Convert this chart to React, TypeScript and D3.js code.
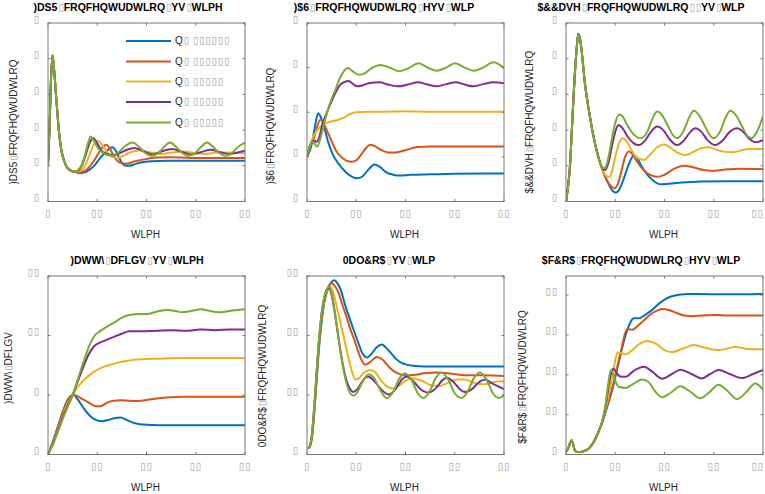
import React from 'react';
import * as d3 from 'd3';

type Pt = [number, number];

const COLORS = ['#0072BD', '#D95319', '#EDB120', '#7E2F8E', '#77AC30'];
const xTickValues = [0, 20, 40, 60, 80];
const xTickLabels = ['▯', '▯▯', '▯▯', '▯▯', '▯▯'];
const legendLabels = ['Q▯ ▯▯▯▯▯▯', 'Q▯ ▯▯▯▯▯▯', 'Q▯ ▯▯▯▯▯', 'Q▯ ▯▯▯▯▯', 'Q▯ ▯▯▯▯▯'];

const titles = [
  ')DS5▯FRQFHQWUDWLRQ▯YV▯WLPH',
  ')$6▯FRQFHQWUDWLRQ▯HYV▯WLP',
  '$&&DVH▯FRQFHQWUDWLRQ▯▯YV▯WLP',
  ')DWW\\▯DFLGV▯YV▯WLPH',
  '0DO&R$▯YV▯WLP',
  '$F&R$▯FRQFHQWUDWLRQ▯HYV▯WLP',
];
const yLabels = [
  ')DS5▯FRQFHQWUDWLRQ',
  ')$6▯FRQFHQWUDWLRQ',
  '$&&DVH▯FRQFHQWUDWLRQ',
  ')DWW\\▯DFLGV',
  '0DO&R$▯FRQFHQWUDWLRQ',
  '$F&R$▯FRQFHQWUDWLRQ',
];
const xLabel = 'WLPH';

const yTicks1 = [0, 1, 2, 3, 4, 5];
const yTickLabels1 = ['▯', '▯', '▯', '▯', '▯', '▯'];
const yTicks2 = [0, 1, 2, 3, 4];
const yTickLabels2 = ['▯', '▯', '▯', '▯', '▯'];
const yTicks3 = [0, 1, 2, 3, 4, 5];
const yTickLabels3 = ['▯', '▯', '▯', '▯', '▯', '▯'];
const yTicks4 = [0, 1, 2, 3];
const yTickLabels4 = ['▯', '▯', '▯▯', '▯▯'];
const yTicks5 = [0, 1, 2, 3];
const yTickLabels5 = ['▯', '▯▯', '▯▯', '▯▯'];
const yTicks6 = [0, 1, 2, 3, 4];
const yTickLabels6 = ['▯', '▯▯', '▯▯', '▯▯', '▯▯'];
const yMax = [5, 4, 5, 3, 3, 4.48];

// ---------- Panel 1 ----------
const p1Start: Pt[] = [[0, 1.03], [0.6, 2.0], [1.2, 3.4], [1.8, 4.1], [2.4, 3.75], [3.4, 2.85], [4.4, 2.0], [5.4, 1.45], [6.5, 1.15], [7.5, 0.98], [9, 0.88]];
const p1Blue: Pt[] = [...p1Start, [11, 0.83], [13, 0.8], [15, 0.82], [17, 0.9], [19, 1.02], [21, 1.2], [23, 1.36], [25, 1.48], [26.3, 1.52], [27.3, 1.45], [28.5, 1.28], [30, 1.08], [31.5, 1.0], [33, 1.0], [35, 1.04], [38, 1.1], [42, 1.13], [48, 1.14], [60, 1.14], [80, 1.14]];
const p1Orange: Pt[] = [...p1Start, [11, 0.83], [12.5, 0.81], [14.5, 0.84], [16.5, 0.95], [18.5, 1.12], [20.5, 1.35], [22.3, 1.53], [23.8, 1.59], [25, 1.5], [26.5, 1.3], [28, 1.15], [30, 1.07], [32, 1.06], [35, 1.12], [39, 1.18], [44, 1.23], [50, 1.24], [58, 1.22], [66, 1.22], [80, 1.22]];
const p1Yellow: Pt[] = [...p1Start, [11, 0.83], [13, 0.85], [15, 1.0], [16.8, 1.3], [18.5, 1.58], [20.4, 1.7], [22, 1.58], [24, 1.38], [26, 1.25], [28, 1.22], [30.5, 1.28], [33.5, 1.38], [37, 1.43], [41, 1.38], [46, 1.33], [51, 1.38], [55, 1.4], [60, 1.35], [64, 1.33], [69, 1.37], [73, 1.37], [80, 1.35]];
const p1Purple: Pt[] = [...p1Start, [10.8, 0.83], [12.5, 0.88], [14, 1.05], [15.5, 1.35], [17, 1.65], [18.4, 1.78], [19.8, 1.65], [21.5, 1.45], [23.5, 1.33], [26.5, 1.3], [29, 1.35], [32, 1.45], [35, 1.5], [38.5, 1.42], [42.5, 1.32], [46, 1.4], [50.5, 1.47], [54, 1.4], [58, 1.32], [62, 1.38], [66, 1.45], [70, 1.38], [73.5, 1.33], [77, 1.37], [80, 1.42]];
const p1Green: Pt[] = [...p1Start, [10.5, 0.83], [12, 0.87], [13.5, 1.0], [15, 1.3], [16.3, 1.65], [17.3, 1.82], [18.5, 1.72], [20, 1.52], [22, 1.38], [24, 1.3], [26.5, 1.28], [29, 1.4], [31.5, 1.56], [34.3, 1.65], [37, 1.53], [39.5, 1.36], [42, 1.28], [44.5, 1.34], [47, 1.52], [49.5, 1.65], [52, 1.53], [54.5, 1.36], [57, 1.28], [59.5, 1.34], [62, 1.52], [64.6, 1.65], [67, 1.53], [69.5, 1.36], [72, 1.28], [74.5, 1.34], [77, 1.52], [80, 1.65]];

// ---------- Panel 2 ----------
const p2Blue: Pt[] = [[0, 1.0], [0.7, 1.08], [2, 1.3], [3.3, 1.7], [4.5, 1.98], [5.5, 1.9], [6.8, 1.7], [8.5, 1.35], [10.5, 1.05], [12.8, 0.85], [15, 0.7], [17.5, 0.58], [20.3, 0.52], [22.5, 0.56], [25, 0.72], [27.4, 0.83], [29.5, 0.78], [32, 0.66], [35, 0.6], [37.5, 0.58], [42, 0.6], [50, 0.61], [60, 0.62], [80, 0.63]];
const p2Orange: Pt[] = [[0, 1.0], [1, 1.2], [2, 1.32], [3, 1.45], [4, 1.65], [5.4, 1.83], [6.5, 1.78], [8, 1.6], [10, 1.35], [12, 1.12], [14.5, 0.97], [16.5, 0.9], [18.2, 0.89], [20, 0.92], [22, 1.05], [24, 1.2], [25.7, 1.27], [27.5, 1.24], [30, 1.16], [33, 1.1], [36, 1.1], [40, 1.15], [45, 1.22], [50, 1.23], [60, 1.23], [80, 1.23]];
const p2Yellow: Pt[] = [[0, 1.0], [1, 1.2], [2, 1.38], [3, 1.5], [4.5, 1.62], [6.5, 1.72], [9, 1.78], [12, 1.82], [15, 1.88], [17.5, 1.96], [20, 2.0], [25, 2.01], [30, 2.01], [40, 2.02], [50, 2.01], [60, 2.01], [80, 2.01]];
const p2Purple: Pt[] = [[0, 1.0], [1, 1.22], [2, 1.34], [3, 1.36], [4, 1.34], [5, 1.45], [6, 1.68], [8.1, 2.0], [10, 2.25], [11.5, 2.43], [13, 2.58], [14.5, 2.66], [16.9, 2.7], [18.5, 2.64], [20.5, 2.58], [22.5, 2.6], [25, 2.65], [29.5, 2.67], [33, 2.62], [37, 2.58], [41, 2.62], [45, 2.67], [49, 2.62], [52.5, 2.58], [56.5, 2.63], [60.5, 2.67], [64, 2.62], [67.5, 2.58], [71.5, 2.63], [75.7, 2.67], [80, 2.65]];
const p2Green: Pt[] = [[0, 1.0], [1, 1.22], [2, 1.34], [3, 1.3], [4, 1.23], [5, 1.33], [6, 1.53], [8.1, 1.98], [10, 2.3], [11.5, 2.5], [13, 2.72], [14.5, 2.88], [16.6, 2.99], [18.5, 2.92], [20.9, 2.84], [23, 2.86], [26, 2.98], [29.7, 3.06], [33.5, 3.0], [37.4, 2.92], [41, 2.98], [45.3, 3.1], [49, 3.0], [52.7, 2.93], [56.5, 3.0], [60.1, 3.1], [64, 3.0], [67.6, 2.93], [71.5, 3.0], [75.7, 3.12], [80, 2.99]];

// ---------- Panel 3 ----------
const p3Start: Pt[] = [[0, 0], [0.8, 0.4], [1.6, 0.97], [2.3, 1.9], [3, 2.85], [3.7, 3.7], [4.3, 4.25], [5, 4.7], [5.7, 4.55], [6.3, 4.25], [7.7, 3.3], [9.7, 2.38], [12.4, 1.44], [14, 1.05]];
const p3Blue: Pt[] = [...p3Start, [15, 0.85], [16.5, 0.6], [18, 0.4], [19.2, 0.28], [20.2, 0.25], [21.5, 0.32], [23, 0.55], [25, 0.95], [26.5, 1.2], [27.6, 1.3], [29, 1.2], [31, 0.95], [33, 0.75], [35.5, 0.58], [38.4, 0.48], [42, 0.5], [47, 0.53], [55, 0.56], [65, 0.57], [80, 0.57]];
const p3Orange: Pt[] = [...p3Start, [15, 0.85], [16.5, 0.62], [18, 0.45], [19.5, 0.37], [21, 0.48], [22.5, 0.85], [24, 1.25], [25.6, 1.4], [27, 1.33], [29, 1.1], [31.5, 0.88], [34, 0.75], [37, 0.69], [40, 0.75], [44, 0.92], [47.8, 1.0], [52, 0.95], [56, 0.88], [59.3, 0.86], [64, 0.89], [70, 0.92], [80, 0.91]];
const p3Yellow: Pt[] = [...p3Start, [15, 0.85], [16.3, 0.72], [17.5, 0.69], [18.7, 0.85], [20, 1.25], [21.5, 1.62], [22.9, 1.77], [24.5, 1.7], [26.5, 1.45], [28.5, 1.25], [31.6, 1.16], [34, 1.3], [37, 1.52], [39.7, 1.6], [42.5, 1.5], [45.5, 1.36], [48.5, 1.3], [52, 1.4], [55, 1.5], [57.9, 1.52], [61, 1.45], [64.5, 1.39], [68, 1.38], [72, 1.45], [75, 1.48], [80, 1.47]];
const p3Purple: Pt[] = [...p3Start, [15.9, 0.88], [17.3, 1.1], [18.8, 1.6], [20, 1.95], [21.3, 2.14], [23, 2.05], [25, 1.82], [27.5, 1.63], [29.6, 1.58], [32, 1.7], [34.5, 1.95], [37, 2.1], [39.5, 2.0], [42, 1.75], [45.1, 1.58], [48, 1.72], [50.5, 1.95], [52.5, 2.05], [55, 1.95], [57.5, 1.72], [60.6, 1.58], [63.5, 1.7], [66.5, 1.95], [69.4, 2.05], [72, 1.95], [74.5, 1.75], [77, 1.66], [80, 1.72]];
const p3Green: Pt[] = [...p3Start, [15.5, 0.93], [16.8, 1.1], [18.2, 1.6], [19.8, 2.15], [21.5, 2.44], [23, 2.38], [25, 2.12], [27.5, 1.88], [30.3, 1.77], [33, 1.95], [35, 2.3], [37, 2.52], [39, 2.42], [41.5, 2.1], [43.5, 1.85], [45.1, 1.77], [47.5, 1.95], [50, 2.35], [51.9, 2.54], [54, 2.42], [56.5, 2.1], [58.5, 1.85], [59.9, 1.77], [62.5, 1.95], [64.8, 2.35], [66.7, 2.54], [69, 2.42], [71.5, 2.1], [73.5, 1.85], [75.4, 1.77], [77.5, 1.95], [80, 2.38]];

// ---------- Panel 4 ----------
const p4Blue: Pt[] = [[0, 0], [2, 0.22], [4, 0.47], [6, 0.72], [8, 0.92], [9.5, 0.99], [10.5, 1.0], [12, 0.93], [14.6, 0.77], [17, 0.65], [20, 0.57], [22, 0.56], [24.5, 0.58], [27, 0.61], [29.5, 0.62], [32, 0.58], [35, 0.53], [40, 0.5], [50, 0.49], [80, 0.49]];
const p4Orange: Pt[] = [[0, 0], [2, 0.2], [4, 0.45], [6, 0.7], [8, 0.9], [10, 1.0], [11.5, 0.99], [14, 0.93], [17, 0.86], [19.5, 0.81], [21.4, 0.81], [23.5, 0.86], [26, 0.9], [30, 0.91], [36, 0.9], [42, 0.93], [48, 0.96], [55, 0.97], [65, 0.97], [80, 0.97]];
const p4Yellow: Pt[] = [[0, 0], [2, 0.19], [4, 0.42], [6, 0.66], [8, 0.86], [10, 1.0], [12, 1.13], [15, 1.27], [18.7, 1.39], [23, 1.48], [28, 1.54], [33, 1.58], [38, 1.6], [45, 1.61], [55, 1.62], [80, 1.62]];
const p4Purple: Pt[] = [[0, 0], [2, 0.18], [4, 0.4], [6, 0.63], [8, 0.82], [10, 1.0], [12, 1.22], [14.6, 1.5], [16.5, 1.68], [18.7, 1.82], [21, 1.88], [24, 1.93], [27, 1.98], [30, 2.03], [33, 2.07], [38, 2.07], [44, 2.08], [50, 2.09], [56, 2.08], [62, 2.1], [68, 2.09], [74, 2.1], [80, 2.1]];
const p4Green: Pt[] = [[0, 0], [2, 0.17], [4, 0.38], [6, 0.6], [8, 0.8], [10, 1.0], [12, 1.25], [14.6, 1.58], [17, 1.85], [19, 2.0], [21, 2.07], [24, 2.15], [27, 2.22], [30, 2.3], [33.6, 2.35], [37, 2.36], [40.3, 2.36], [44, 2.4], [48.4, 2.43], [52, 2.41], [54.5, 2.39], [58, 2.41], [62, 2.44], [66, 2.41], [70.1, 2.39], [75, 2.42], [80, 2.44]];

// ---------- Panel 5 ----------
const p5Blue: Pt[] = [[0, 0.1], [1, 0.12], [2, 0.28], [3, 0.72], [4, 1.3], [5, 1.85], [6, 2.25], [7, 2.55], [8.5, 2.78], [10, 2.9], [11.2, 2.93], [12.3, 2.88], [13.5, 2.79], [15.5, 2.51], [18.2, 2.18], [20.9, 1.87], [22.5, 1.7], [24.3, 1.63], [26, 1.68], [28.2, 1.8], [30.4, 1.85], [32, 1.8], [33.8, 1.72], [35.8, 1.62], [38, 1.55], [40.5, 1.51], [43, 1.49], [48, 1.48], [60, 1.48], [80, 1.48]];
const p5Orange: Pt[] = [[0, 0.1], [1, 0.12], [2, 0.3], [3, 0.75], [4, 1.35], [5, 1.9], [6, 2.3], [7, 2.58], [8.5, 2.8], [10.1, 2.88], [11.5, 2.82], [12.8, 2.72], [14, 2.56], [15.5, 2.38], [17.5, 2.12], [19.6, 1.88], [21.5, 1.65], [23.6, 1.51], [25.5, 1.55], [28.4, 1.64], [30.5, 1.6], [33.8, 1.45], [36.5, 1.37], [39.9, 1.33], [44, 1.34], [48, 1.37], [53, 1.38], [58, 1.36], [65, 1.33], [72, 1.33], [80, 1.32]];
const p5Yellow: Pt[] = [[0, 0.1], [1, 0.12], [2, 0.32], [3, 0.8], [4, 1.4], [5, 1.95], [6, 2.35], [7, 2.6], [8.3, 2.77], [9.5, 2.82], [10.7, 2.72], [12.2, 2.46], [13.5, 2.22], [14.9, 1.98], [16.3, 1.72], [17.6, 1.5], [18.8, 1.32], [19.8, 1.26], [21, 1.28], [23, 1.37], [25.7, 1.42], [28, 1.37], [30.5, 1.22], [33, 1.13], [35, 1.11], [37.5, 1.16], [40, 1.24], [43, 1.28], [46.5, 1.24], [50, 1.17], [53.5, 1.15], [57, 1.2], [61, 1.26], [64, 1.26], [68, 1.2], [72, 1.18], [76, 1.22], [80, 1.23]];
const p5Purple: Pt[] = [[0, 0.1], [1, 0.13], [2, 0.34], [3, 0.83], [4, 1.43], [5, 1.98], [6, 2.38], [7, 2.63], [8, 2.77], [8.9, 2.8], [10, 2.68], [11.5, 2.32], [13, 1.9], [14.5, 1.52], [16, 1.25], [17.5, 1.1], [18.7, 1.05], [20.5, 1.1], [22.5, 1.23], [24.7, 1.31], [27, 1.25], [30, 1.1], [33.1, 1.01], [36, 1.1], [38.5, 1.26], [40.5, 1.31], [43, 1.24], [46, 1.1], [49.3, 1.04], [52.5, 1.12], [55, 1.25], [56.8, 1.29], [59.5, 1.22], [62, 1.1], [64, 1.05], [67, 1.1], [70, 1.22], [72.3, 1.26], [75, 1.2], [80, 1.1]];
const p5Green: Pt[] = [[0, 0.1], [1, 0.13], [2, 0.35], [3, 0.85], [4, 1.45], [5, 2.0], [6, 2.4], [7, 2.65], [8, 2.78], [9, 2.82], [10, 2.72], [11.5, 2.35], [13, 1.9], [14.5, 1.5], [16, 1.2], [17.5, 1.03], [18.9, 0.99], [20.5, 1.05], [22.5, 1.22], [25, 1.35], [27, 1.3], [29.5, 1.1], [32.4, 0.95], [35, 1.05], [37.5, 1.28], [39.9, 1.36], [42.5, 1.25], [45, 1.03], [47.3, 0.95], [50, 1.08], [52.5, 1.3], [54.7, 1.38], [57.5, 1.25], [60, 1.03], [62.8, 0.95], [65.5, 1.08], [68, 1.3], [70.3, 1.38], [73, 1.25], [75.5, 1.03], [78, 0.95], [80, 0.99]];

// ---------- Panel 6 ----------
const p6Start: Pt[] = [[0, 0.07], [0.8, 0.14], [1.6, 0.28], [2.3, 0.36], [2.9, 0.25], [3.6, 0.1], [4.5, 0.06], [6, 0.06], [7.5, 0.09], [9, 0.14], [10.5, 0.24], [12, 0.4], [13.5, 0.62]];
const p6Blue: Pt[] = [...p6Start, [15, 0.85], [16.5, 1.15], [18, 1.45], [19.5, 1.8], [21, 2.2], [22.5, 2.6], [24, 2.95], [25.5, 3.22], [26.7, 3.38], [27.6, 3.42], [29.6, 3.42], [32, 3.5], [35, 3.63], [38, 3.8], [40.4, 3.9], [43, 3.97], [45.8, 4.01], [50, 4.03], [53.9, 4.03], [65, 4.02], [80, 4.03]];
const p6Orange: Pt[] = [...p6Start, [15, 0.86], [16.5, 1.2], [18, 1.5], [19.5, 1.85], [21, 2.25], [22.5, 2.65], [23.8, 3.0], [24.9, 3.15], [26.9, 3.13], [29, 3.22], [31.5, 3.36], [34, 3.5], [36.5, 3.6], [39.1, 3.65], [42, 3.62], [45, 3.55], [48, 3.49], [51.2, 3.47], [55, 3.49], [60.6, 3.5], [66, 3.49], [80, 3.49]];
const p6Yellow: Pt[] = [...p6Start, [15, 0.88], [16.5, 1.25], [18, 1.7], [19.5, 2.2], [20.9, 2.56], [22.5, 2.55], [24.2, 2.51], [26.5, 2.6], [29.5, 2.76], [33, 2.85], [36.5, 2.78], [40, 2.62], [43.1, 2.57], [47.5, 2.66], [51.9, 2.75], [56.5, 2.68], [62, 2.62], [65.5, 2.66], [68.7, 2.7], [74, 2.65], [80, 2.64]];
const p6Purple: Pt[] = [...p6Start, [15, 0.9], [16.3, 1.3], [17.5, 1.8], [18.5, 2.08], [19.3, 2.15], [20.5, 2.05], [22, 1.96], [24.2, 1.95], [27.5, 2.1], [31.6, 2.2], [35, 2.08], [39.1, 1.9], [43, 2.02], [46.5, 2.13], [51, 2.02], [55.2, 1.91], [58.5, 2.02], [62, 2.12], [66.5, 2.02], [71.4, 1.92], [76, 2.02], [80, 2.12]];
const p6Green: Pt[] = [...p6Start, [15, 0.9], [16.2, 1.3], [17.2, 1.8], [18.2, 2.12], [19, 2.05], [20, 1.85], [21.5, 1.7], [24.2, 1.67], [27, 1.76], [31, 1.88], [33.5, 1.82], [36, 1.6], [39.1, 1.44], [42.5, 1.55], [46.5, 1.71], [50, 1.6], [54.5, 1.41], [58, 1.55], [62, 1.75], [65.5, 1.6], [69.4, 1.39], [73, 1.55], [76.8, 1.78], [80, 1.63]];

const panelSeries: Pt[][][] = [
  [p1Blue, p1Orange, p1Yellow, p1Purple, p1Green],
  [p2Blue, p2Orange, p2Yellow, p2Purple, p2Green],
  [p3Blue, p3Orange, p3Yellow, p3Purple, p3Green],
  [p4Blue, p4Orange, p4Yellow, p4Purple, p4Green],
  [p5Blue, p5Orange, p5Yellow, p5Purple, p5Green],
  [p6Blue, p6Orange, p6Yellow, p6Purple, p6Green],
];
const panelYTicks = [yTicks1, yTicks2, yTicks3, yTicks4, yTicks5, yTicks6];
const panelYTickLabels = [yTickLabels1, yTickLabels2, yTickLabels3, yTickLabels4, yTickLabels5, yTickLabels6];

// layout
const colLeft = [48, 307, 566];
const plotW = 197;
const rowTop = [23, 276];
const plotH = 178.5;
const titleX = [128, 384, 641, 137, 389, 641];
const yLabelPos: [number, number][] = [[13, 122], [270, 126], [529, 122], [7.5, 368], [262, 376], [522, 377]];

const FONT = "'Liberation Sans', Arial, Helvetica, sans-serif";
const BOX_FONT = "'DejaVu Sans Mono', 'DejaVu Sans', monospace";
const BOX_COLOR = '#b0b0b0';
const AXIS_COLOR = '#777777';
const TEXT_COLOR = '#262626';
const BOX_SIZE = 12;
const BOX_SPACING = -1;

function Garbled(props: any) {
  const { text, ...rest } = props;
  const parts = (text as string).split(/(▯+)/).filter((s: string) => s.length > 0);
  return (
    <text {...rest}>
      {parts.map((p: string, i: number) =>
        p[0] === '▯' ? (
          <tspan key={i} fill={BOX_COLOR} fontFamily={BOX_FONT} fontWeight="normal" fontSize={BOX_SIZE} letterSpacing={BOX_SPACING}>{p}</tspan>
        ) : (
          <tspan key={i}>{p}</tspan>
        )
      )}
    </text>
  );
}

function Panel({ idx }: { idx: number }) {
  const col = idx % 3;
  const row = Math.floor(idx / 3);
  const x0 = colLeft[col];
  const y0 = rowTop[row];
  const x = d3.scaleLinear().domain([0, 80]).range([x0, x0 + plotW]);
  const y = d3.scaleLinear().domain([0, yMax[idx]]).range([y0 + plotH, y0]);
  const line = d3
    .line<Pt>()
    .x((d) => x(d[0]))
    .y((d) => y(d[1]))
    .curve(d3.curveMonotoneX);
  const clipId = `clip${idx}`;
  const tl = 2.5;
  return (
    <g>
      <defs>
        <clipPath id={clipId}>
          <rect x={x0} y={y0} width={plotW} height={plotH} />
        </clipPath>
      </defs>
      <rect x={x0} y={y0} width={plotW} height={plotH} fill="#ffffff" />
      <g clipPath={`url(#${clipId})`}>
        {panelSeries[idx].map((s, i) => (
          <path key={i} d={line(s) || ''} fill="none" stroke={COLORS[i]} strokeWidth={2} strokeLinejoin="round" />
        ))}
      </g>
      <rect x={x0} y={y0} width={plotW} height={plotH} fill="none" stroke={AXIS_COLOR} strokeWidth={1} />
      {xTickValues.map((v, i) => {
        const lab = xTickLabels[i];
        const halfW = lab.length * 3.2;
        const cx = Math.min(x(v) - 1, 763 - halfW);
        return (
          <g key={'xt' + i}>
            <line x1={x(v)} x2={x(v)} y1={y0 + plotH} y2={y0 + plotH - tl} stroke={AXIS_COLOR} />
            <line x1={x(v)} x2={x(v)} y1={y0} y2={y0 + tl} stroke={AXIS_COLOR} />
            <text x={cx} y={y0 + plotH + 11} textAnchor="middle" dominantBaseline="central" fontFamily={BOX_FONT} fontSize={BOX_SIZE} letterSpacing={BOX_SPACING} fill={BOX_COLOR}>
              {lab}
            </text>
          </g>
        );
      })}
      {panelYTicks[idx].map((v, i) => (
        <g key={'yt' + i}>
          <line x1={x0} x2={x0 + tl} y1={y(v)} y2={y(v)} stroke={AXIS_COLOR} />
          <line x1={x0 + plotW} x2={x0 + plotW - tl} y1={y(v)} y2={y(v)} stroke={AXIS_COLOR} />
          <text x={x0 - 9} y={y(v) - 4.5} textAnchor="end" dominantBaseline="central" fontFamily={BOX_FONT} fontSize={BOX_SIZE} letterSpacing={BOX_SPACING} fill={BOX_COLOR}>
            {panelYTickLabels[idx][i]}
          </text>
        </g>
      ))}
      <Garbled
        text={titles[idx]}
        x={titleX[idx]}
        y={row === 0 ? 11 : 264}
        textAnchor="middle"
        fontFamily={FONT}
        fontWeight="bold"
        fontSize={10.5}
        fill="#000000"
      />
      <Garbled
        text={xLabel}
        x={x0 + plotW / 2 - 1}
        y={y0 + plotH + 36.5}
        textAnchor="middle"
        fontFamily={FONT}
        fontSize={10}
        fill={TEXT_COLOR}
      />
      <Garbled
        text={yLabels[idx]}
        transform={`translate(${yLabelPos[idx][0]},${yLabelPos[idx][1]}) rotate(-90)`}
        x={0}
        y={0}
        textAnchor="middle"
        dominantBaseline="central"
        fontFamily={FONT}
        fontSize={10}
        fill={TEXT_COLOR}
      />
    </g>
  );
}

function Legend() {
  const ys = [41, 61.5, 81.5, 102, 122.5];
  return (
    <g>
      {legendLabels.map((lab, i) => (
        <g key={i}>
          <line x1={126} x2={171} y1={ys[i]} y2={ys[i]} stroke={COLORS[i]} strokeWidth={2} />
          <Garbled text={lab} x={175} y={ys[i] - 1} dominantBaseline="central" fontFamily={FONT} fontSize={10} fill={TEXT_COLOR} />
        </g>
      ))}
    </g>
  );
}

export default function App() {
  return (
    <div style={{ position: 'absolute', left: 0, top: 0 }}>
      <svg width={765} height={494} style={{ display: 'block', background: '#ffffff' }}>
        <rect x={0} y={0} width={765} height={494} fill="#ffffff" />
        {[0, 1, 2, 3, 4, 5].map((i) => (
          <Panel key={i} idx={i} />
        ))}
        <Legend />
      </svg>
    </div>
  );
}
